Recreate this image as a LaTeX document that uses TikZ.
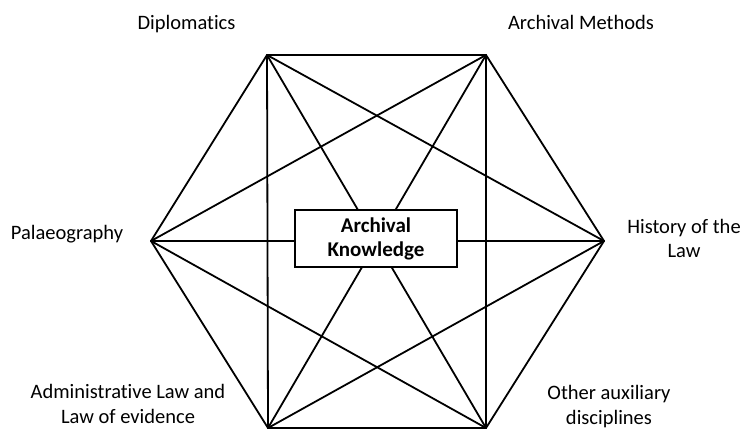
\documentclass[tikz,border=0pt]{standalone}
\usepackage{fontspec}
\setmainfont{Carlito}[Ligatures=NoCommon]
\begin{document}
\begin{tikzpicture}[x=1pt,y=-1pt,
  edge/.style={line width=1.8pt, line cap=round, line join=round},
  lbl/.style={font=\fontsize{20.5}{24.5}\selectfont, align=center, inner sep=0pt, anchor=base},
  core/.style={draw, line width=1.2pt, fill=white, minimum width=162pt, minimum height=57pt, inner sep=0pt, font=\bfseries\fontsize{21}{24}\selectfont, align=center}]
\clip (0,0) rectangle (746,430);
\coordinate (TL) at (267,55);
\coordinate (TR) at (486,55);
\coordinate (R) at (604,241);
\coordinate (BR) at (486,428);
\coordinate (BL) at (268,428);
\coordinate (L) at (151,241);
% hexagon
\draw[edge] (TL) -- (TR) -- (R) -- (BR) -- (BL) -- (L) -- cycle;
% diagonals
\draw[edge] (TL) -- (R);
\draw[edge] (TL) -- (BR);
\draw[edge] (TL) -- (BL);
\draw[edge] (TR) -- (L);
\draw[edge] (TR) -- (BL);
\draw[edge] (TR) -- (BR);
\draw[edge] (L) -- (R);
\draw[edge] (L) -- (BR);
\draw[edge] (R) -- (BL);
% centre
\node[core] (ak) at (376,238.5) {Archival\\Knowledge};
% labels
\node[lbl] (dip) at (186.5,30) {Diplomatics};
\node[lbl] (am) at (581,30) {Archival Methods};
\node[lbl] (pal) at (67,240) {Palaeography};
\node[lbl] (hist) at (684,258) {History of the\\Law};
\node[lbl] (adm) at (128,423) {Administrative Law and\\Law of evidence};
\node[lbl] (oth) at (609,424) {Other auxiliary\\disciplines};
\end{tikzpicture}
\end{document}
